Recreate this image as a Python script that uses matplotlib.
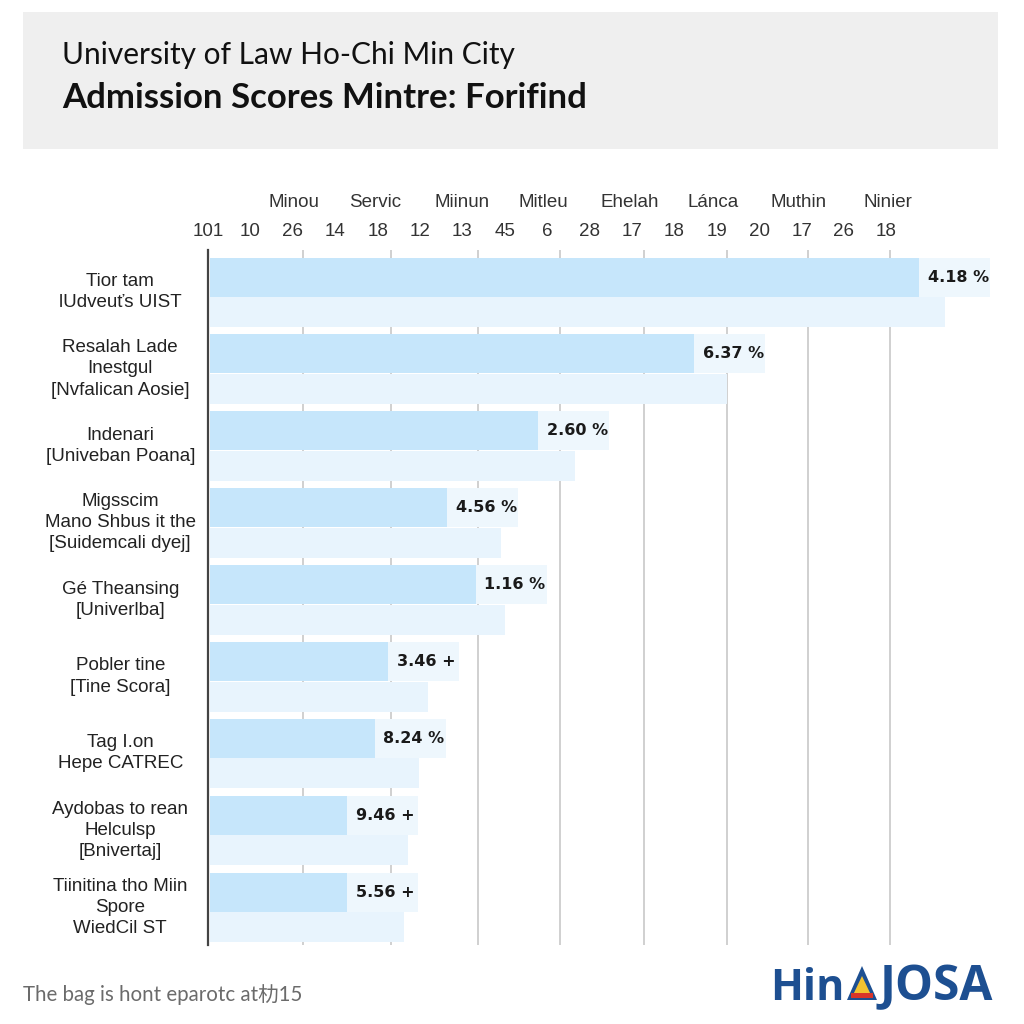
import matplotlib
matplotlib.use("Agg")
import matplotlib.pyplot as plt
from matplotlib.patches import Rectangle, Polygon
import numpy as np

# ---------------- data ----------------
categories = [
    "Tior tam\nlUdveuťs UIST",
    "Resalah Lade\nInestgul\n[Nvfalican Aosie]",
    "Indenari\n[Univeban Poana]",
    "Migsscim\nMano Shbus it the\n[Suidemcali dyej]",
    "Gé Theansing\n[Univerlba]",
    "Pobler tine\n[Tine Scora]",
    "Tag I.on\nHepe CATREC",
    "Aydobas to rean\nHelculsp\n[Bnivertaj]",
    "Tiinitina tho Miin\nSpore\nWiedCil ST",
]
main_values = [9.00, 6.15, 4.18, 3.03, 3.39, 2.28, 2.11, 1.76, 1.76]
back_values = [9.33, 6.57, 4.65, 3.71, 3.76, 2.78, 2.67, 2.53, 2.48]
value_labels = ["4.18 %", "6.37 %", "2.60 %", "4.56 %", "1.16 %",
                "3.46 +", "8.24 %", "9.46 +", "5.56 +"]
top_names = ["Minou", "Servic", "Miinun", "Mitleu", "Ehelah", "Lánca", "Muthin", "Ninier"]
top_numbers = ["101", "10", "26", "14", "18", "12", "13", "45", "6", "28",
               "17", "18", "19", "20", "17", "26", "18"]
grid_positions = [1.20, 2.32, 3.42, 4.46, 5.52, 6.57, 7.59, 8.63]
name_positions = [1.09, 2.11, 3.22, 4.24, 5.34, 6.39, 7.47, 8.61]

title1 = "University of Law Ho-Chi Min City"
title2 = "Admission Scores Mintre: Forifind"
footer = "The bag is hont eparotc at朸15"

# ---------------- figure ----------------
W = H = 1024
fig = plt.figure(figsize=(10.24, 10.24), dpi=100)
fig.patch.set_facecolor("white")

# overlay axes in pixel coords for decorations
ov = fig.add_axes([0, 0, 1, 1])
ov.set_xlim(0, W)
ov.set_ylim(H, 0)
ov.axis("off")
ov.add_patch(Rectangle((23, 12), 975, 137, facecolor="#efefef", edgecolor="none"))
ov.text(62, 55, title1, fontsize=21.5, family=["Lato", "DejaVu Sans"],
        color="#111111", va="center", ha="left")
ov.text(62, 98, title2, fontsize=25, family=["Lato", "DejaVu Sans"],
        fontweight="bold", color="#111111", va="center", ha="left")
ov.text(23, 995, footer, fontsize=14.8, family=["Lato", "Noto Sans CJK SC"],
        color="#6b6b6b", va="center", ha="left")
logo_blue = "#1d4f91"
ov.text(845, 1000, "Hin", fontsize=31, family=["Open Sans", "DejaVu Sans"],
        fontweight="bold", color=logo_blue, ha="right", va="baseline")
ov.text(879, 1000, "JOSA", fontsize=34.5, family=["Open Sans", "DejaVu Sans"],
        fontweight="bold", color=logo_blue, ha="left", va="baseline")
ov.add_patch(Polygon([(847, 1000), (862, 966), (877, 1000)], closed=True,
                     facecolor=logo_blue, edgecolor="none"))
ov.add_patch(Polygon([(853, 995), (862, 976), (871, 995)], closed=True,
                     facecolor="#f2c230", edgecolor="none"))
ov.add_patch(Rectangle((851, 993), 22, 5, facecolor="#d8352a", edgecolor="none"))

# main axes
left_px, right_px, top_px, bot_px = 208, 998, 250, 945
ax = fig.add_axes([left_px / W, 1 - bot_px / H, (right_px - left_px) / W, (bot_px - top_px) / H])
ax.set_facecolor("none")
n = len(categories)
ypos = np.arange(n)
row_px = 76.9
ax.set_xlim(0, (right_px - left_px) / 79.0)
ax.set_ylim((bot_px - 292) / row_px, (top_px - 292) / row_px)

main_off = -15 / row_px
main_h = 39 / row_px
back_off = 20 / row_px
back_h = 30 / row_px
x0 = 0.03

ax.barh(ypos + back_off, np.array(back_values) - x0, left=x0, height=back_h,
        color="#e8f4fd", edgecolor="none", zorder=2)
ax.barh(ypos + main_off, np.array(main_values) - x0, left=x0, height=main_h,
        color="#c6e6fb", edgecolor="none", zorder=3)
ax.barh(ypos + main_off, [0.9] * n, left=main_values, height=main_h,
        color="#eef7fd", edgecolor="none", zorder=3)
for y, v, lab in zip(ypos, main_values, value_labels):
    ax.text(v + 0.11, y + main_off, lab, fontsize=11.5, fontweight="bold",
            family="DejaVu Sans", color="#1a1a1a", va="center", ha="left", zorder=5)

# gridlines
ax.set_xticks(grid_positions)
ax.set_xticklabels([])
ax.tick_params(axis="x", length=0)
ax.grid(axis="x", color="#c8c8c8", linewidth=1.2, zorder=1)
ax.set_axisbelow(True)
ax.set_yticks([])
for s in ["top", "right", "bottom"]:
    ax.spines[s].set_visible(False)
ax.spines["left"].set_color("#444444")
ax.spines["left"].set_linewidth(1.6)

# category labels
ytr = ax.get_yaxis_transform()
for y, c in zip(ypos, categories):
    ax.text(-0.111, y, c, transform=ytr, fontsize=13.5, family=["Liberation Sans", "DejaVu Sans"],
            color="#222222", ha="center", va="center", multialignment="center",
            linespacing=1.32, clip_on=False)

# top labels
xtr = ax.get_xaxis_transform()
for xp, name in zip(name_positions, top_names):
    ax.text(xp, 1.069, name, transform=xtr, fontsize=13.5,
            family=["Liberation Sans", "DejaVu Sans"], color="#333333",
            ha="center", va="center", clip_on=False)
step = 42.4 / 79.0
for k, num in enumerate(top_numbers):
    ax.text(k * step, 1.026, num, transform=xtr, fontsize=13.5,
            family=["Liberation Sans", "DejaVu Sans"], color="#333333",
            ha="center", va="center", clip_on=False)

fig.savefig("out.png", dpi=100, facecolor="white")
